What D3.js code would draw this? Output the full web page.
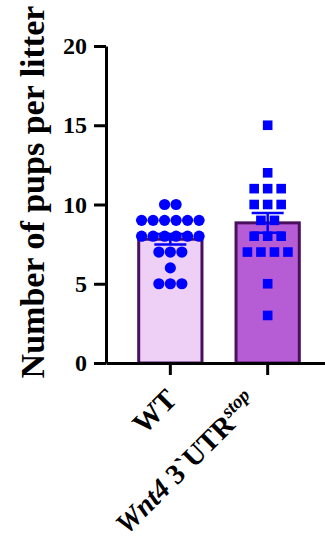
<!DOCTYPE html>
<html>
<head>
<meta charset="utf-8">
<script src="https://cdn.jsdelivr.net/npm/d3@7"></script>
<style>
  body { margin: 0; background: #fff; }
  svg text { font-family: "Liberation Serif", "Times New Roman", serif; font-weight: bold; }
</style>
</head>
<body>
<svg id="chart" width="325" height="541"></svg>
<script>
// groups
var groups = ["WT", "Wnt4"];

// pups per litter, one value per litter
var wtValues = [10, 10, 9, 9, 9, 9, 9, 9, 8, 8, 8, 8, 8, 8, 7, 7, 7, 6, 5, 5, 5];
var mutValues = [15, 12, 11, 11, 11, 10, 10, 10, 9, 9, 8, 8, 8, 7, 7, 7, 7, 5, 3];

var yTicks = [0, 5, 10, 15, 20];

var W = 325, H = 541;
var margin = {top: 46, right: 0, bottom: 178, left: 106};

var svg = d3.select('#chart');

var y = d3.scaleLinear().domain([0, 20]).range([H - margin.bottom, margin.top]);
var x = d3.scaleBand().domain(groups).range([margin.left, W])
    .paddingInner(0.35).paddingOuter(0.3).align(0.56);

const stats = (vals) => {
    var m = d3.mean(vals);
    var sem = d3.deviation(vals) / Math.sqrt(vals.length);
    return {mean: m, sem: sem};
}

var series = [
    {key: "WT", values: wtValues, fill: "#eed0f6", shape: "circle", gap: 11.5},
    {key: "Wnt4", values: mutValues, fill: "#b65cd4", shape: "square", gap: 13.5}
];
series.forEach(s => Object.assign(s, stats(s.values)));

// bars
svg.selectAll('rect.bar')
    .data(series)
    .enter()
    .append('rect')
    .attr('class', 'bar')
    .attr('x', d => x(d.key))
    .attr('y', d => y(d.mean))
    .attr('width', x.bandwidth())
    .attr('height', d => y(0) - y(d.mean))
    .attr('fill', d => d.fill)
    .attr('stroke', '#4a0f5e')
    .attr('stroke-width', 3);

// error bars (mean +/- SEM)
var cx = d => x(d.key) + x.bandwidth() / 2;
var eb = svg.selectAll('g.err').data(series).enter().append('g').attr('class', 'err')
    .attr('stroke', '#0000ff').attr('stroke-width', 2.5);
eb.append('line').attr('x1', cx).attr('x2', cx)
    .attr('y1', d => y(d.mean + d.sem)).attr('y2', d => y(d.mean - d.sem));
eb.append('line').attr('x1', d => cx(d) - 16).attr('x2', d => cx(d) + 16)
    .attr('y1', d => y(d.mean + d.sem)).attr('y2', d => y(d.mean + d.sem));
eb.append('line').attr('x1', d => cx(d) - 16).attr('x2', d => cx(d) + 16)
    .attr('y1', d => y(d.mean - d.sem)).attr('y2', d => y(d.mean - d.sem));

// points, spread sideways where values repeat
series.forEach(s => {
    var rows = d3.group(s.values, v => v);
    var pts = [];
    rows.forEach((vals, v) => {
        vals.forEach((_, i) => {
            pts.push({v: v, dx: (i - (vals.length - 1) / 2) * s.gap});
        });
    });
    var base = cx(s);
    if (s.shape === "circle") {
        svg.append('g').selectAll('circle').data(pts).enter().append('circle')
            .attr('cx', d => base + d.dx)
            .attr('cy', d => y(d.v))
            .attr('r', 5.6)
            .attr('fill', '#0000ff');
    } else {
        svg.append('g').selectAll('rect').data(pts).enter().append('rect')
            .attr('x', d => base + d.dx - 4.8)
            .attr('y', d => y(d.v) - 4.8)
            .attr('width', 9.6).attr('height', 9.6)
            .attr('fill', '#0000ff');
    }
});

// y axis
var yAxis = svg.append('g')
    .attr('transform', 'translate(' + margin.left + ',0)')
    .call(d3.axisLeft(y).tickValues(yTicks).tickSize(12).tickSizeOuter(0).tickPadding(7));
yAxis.selectAll('text').style('font-size', '24px').attr('fill', '#000');

// x axis
var xAxis = svg.append('g')
    .attr('transform', 'translate(0,' + y(0) + ')')
    .call(d3.axisBottom(x).tickSize(12).tickSizeOuter(0).tickFormat(''));

svg.selectAll('.domain, .tick line').attr('stroke', '#000').attr('stroke-width', 3);

// rotated category labels
var labels = svg.append('g');
labels.append('text')
    .attr('transform', 'translate(' + (x('WT') + x.bandwidth() / 2 + 8) + ',' + (y(0) + 38) + ') rotate(-45)')
    .attr('text-anchor', 'end')
    .style('font-size', '29px')
    .text('WT');

var mt = labels.append('text')
    .attr('transform', 'translate(' + (x('Wnt4') + x.bandwidth() / 2 - 9) + ',' + (y(0) + 41) + ') rotate(-45)')
    .attr('text-anchor', 'end')
    .style('font-size', '28.5px');
mt.append('tspan').style('font-style', 'italic').text('Wnt4');
mt.append('tspan').text(' 3`UTR');
mt.append('tspan').style('font-style', 'italic').style('font-size', '19px').attr('dy', -11).text('stop');

// y axis title
svg.append('text')
    .attr('transform', 'translate(44,192) rotate(-90)')
    .attr('text-anchor', 'middle')
    .style('font-size', '34px')
    .text('Number of pups per litter');
</script>
</body>
</html>
